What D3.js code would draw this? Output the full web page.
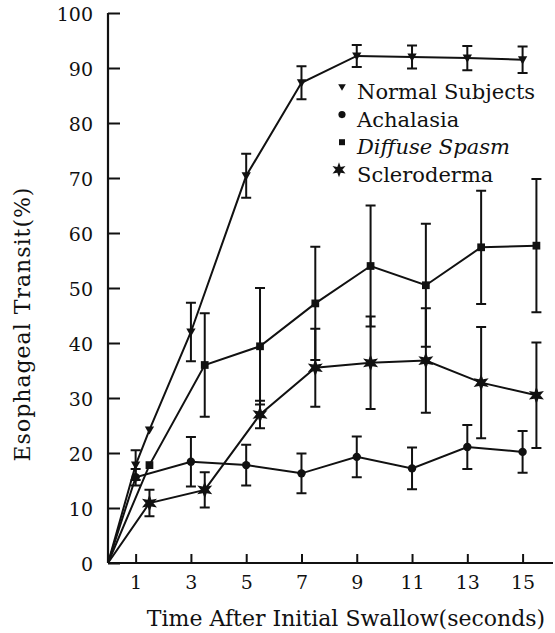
<!DOCTYPE html>
<html>
<head>
<meta charset="utf-8">
<script src="https://cdn.jsdelivr.net/npm/d3@7.9.0/dist/d3.min.js"></script>
<style>
  body { margin: 0; background: #fff; }
  svg text { font-family: "DejaVu Serif", serif; fill: #111; }
</style>
</head>
<body>
<svg id="chart" width="555" height="633"></svg>
<script>
// series: time (s), mean transit (%), +/- error
const normalTimes = [0, 1, 1.5, 3, 5, 7, 9, 11, 13, 15];
const normalMean  = [0, 17.8, 24.2, 42, 70.4, 87.3, 92.2, 92.0, 91.8, 91.5];
const normalErr   = [0, 2.7, 0, 5.3, 4, 3, 2, 2.1, 2.2, 2.4];

const achalasiaTimes = [0, 1, 3, 5, 7, 9, 11, 13, 15];
const achalasiaMean  = [0, 15.6, 18.4, 17.8, 16.3, 19.3, 17.2, 21.1, 20.2];
const achalasiaErr   = [0, 1.5, 4.5, 3.7, 3.6, 3.7, 3.8, 4, 3.8];

const spasmTimes = [0, 1.5, 3.5, 5.5, 7.5, 9.5, 11.5, 13.5, 15.5];
const spasmMean  = [0, 17.8, 36, 39.4, 47.2, 54, 50.5, 57.4, 57.7];
const spasmErr   = [0, 0, 9.4, 10.6, 10.3, 11, 11.2, 10.3, 12.1];

const scleroTimes = [0, 1.5, 3.5, 5.5, 7.5, 9.5, 11.5, 13.5, 15.5];
const scleroMean  = [0, 10.9, 13.3, 27, 35.5, 36.4, 36.8, 32.8, 30.5];
const scleroErr   = [0, 2.4, 3.2, 2.5, 7.1, 8.4, 9.5, 10.1, 9.6];

const xTicks = [1, 3, 5, 7, 9, 11, 13, 15];
const yTicks = [0, 10, 20, 30, 40, 50, 60, 70, 80, 90, 100];

const legendLabels = ['Normal Subjects', 'Achalasia', 'Diffuse Spasm', 'Scleroderma'];

// six pointed star, like the one printed in the figure
const symbolStar6 = {
  draw(context, size) {
    const r = Math.sqrt(size / 1.6);
    const ri = r * 0.45;
    for (let i = 0; i < 12; i++) {
      const a = Math.PI / 6 * i - Math.PI / 2;
      const rr = i % 2 === 0 ? r : ri;
      const px = Math.cos(a) * rr, py = Math.sin(a) * rr;
      if (i === 0) context.moveTo(px, py); else context.lineTo(px, py);
    }
    context.closePath();
  }
};
const symbolTriDown = {
  draw(context, size) {
    const s = Math.sqrt(size);
    context.moveTo(-s * 0.6, -s * 0.45);
    context.lineTo(s * 0.6, -s * 0.45);
    context.lineTo(0, s * 0.6);
    context.closePath();
  }
};

const series = [
  { times: normalTimes, mean: normalMean, err: normalErr, symbol: symbolTriDown, size: 60, legendSize: 40 },
  { times: achalasiaTimes, mean: achalasiaMean, err: achalasiaErr, symbol: d3.symbolCircle, size: 55, legendSize: 40 },
  { times: spasmTimes, mean: spasmMean, err: spasmErr, symbol: d3.symbolSquare, size: 60, legendSize: 36 },
  { times: scleroTimes, mean: scleroMean, err: scleroErr, symbol: symbolStar6, size: 120, legendSize: 90 },
];

const svg = d3.select('#chart');
const x = d3.scaleLinear().domain([0, 16.1]).range([108, 553]);
const y = d3.scaleLinear().domain([0, 100]).range([563, 13]);

// axes
const xAxis = svg.append('g').attr('transform', `translate(0,${y(0)})`)
  .call(d3.axisBottom(x).tickValues(xTicks).tickSizeInner(-9).tickSizeOuter(0).tickPadding(13));
const yAxis = svg.append('g').attr('transform', `translate(${x(0)},0)`)
  .call(d3.axisLeft(y).tickValues(yTicks).tickSizeInner(-12).tickSizeOuter(0).tickPadding(15));

[xAxis, yAxis].forEach(ax => {
  ax.select('.domain').attr('stroke', '#111').attr('stroke-width', 2.2);
  ax.selectAll('.tick line').attr('stroke', '#111').attr('stroke-width', 2);
  ax.selectAll('.tick text').style('font-size', '19px').attr('fill', '#111');
});
yAxis.select('.domain').attr('d', `M0,${y(0)}V${y(100)}`);
xAxis.select('.domain').attr('d', `M${x(0)},0H${x.range()[1]}`);
yAxis.selectAll('.tick text').attr('dy', '0.4em');

// axis titles
svg.append('text')
  .attr('x', 346).attr('y', 626)
  .attr('text-anchor', 'middle')
  .style('font-size', '22px')
  .text('Time After Initial Swallow(seconds)');

svg.append('text')
  .attr('transform', 'translate(30,324) rotate(-90)')
  .attr('text-anchor', 'middle')
  .style('font-size', '22px')
  .style('letter-spacing', '1px')
  .text('Esophageal Transit(%)');

const line = d3.line().x(d => x(d.t)).y(d => y(d.v));

series.forEach(s => {
  const pts = s.times.map((t, i) => ({ t, v: s.mean[i], e: s.err[i] }));
  const g = svg.append('g');

  g.append('path')
    .attr('d', line(pts))
    .attr('fill', 'none')
    .attr('stroke', '#111')
    .attr('stroke-width', 2);

  const bars = pts.filter(d => d.e > 0);
  g.selectAll('.bar').data(bars).enter().append('path')
    .attr('d', d => {
      const cx = x(d.t), top = y(d.v + d.e), bot = y(d.v - d.e);
      return `M${cx},${top}V${bot}M${cx - 5},${top}H${cx + 5}M${cx - 5},${bot}H${cx + 5}`;
    })
    .attr('fill', 'none')
    .attr('stroke', '#111')
    .attr('stroke-width', 2);

  g.selectAll('.mark').data(pts.slice(1)).enter().append('path')
    .attr('transform', d => `translate(${x(d.t)},${y(d.v)})`)
    .attr('d', d3.symbol().type(s.symbol).size(s.size))
    .attr('fill', '#111');
});

// legend
const legend = svg.append('g');
legendLabels.forEach((label, i) => {
  const yy = 87 + i * 27.6;
  legend.append('path')
    .attr('transform', `translate(${i === 3 ? 339 : 342},${yy})`)
    .attr('d', d3.symbol().type(series[i].symbol).size(series[i].legendSize))
    .attr('fill', '#111');
  legend.append('text')
    .attr('x', 357).attr('y', yy + 12)
    .style('font-size', '21px')
    .style('font-style', i === 2 ? 'italic' : 'normal')
    .text(label);
});
</script>
</body>
</html>
